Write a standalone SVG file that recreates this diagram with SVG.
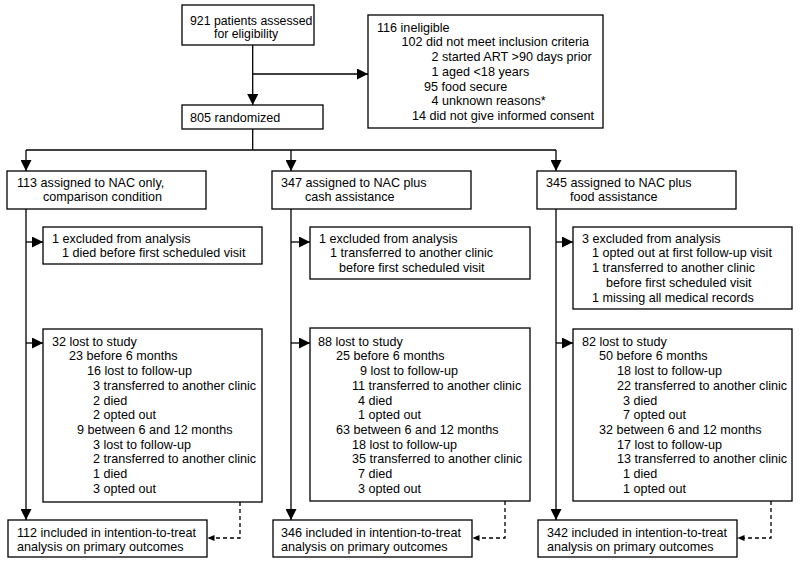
<svg xmlns="http://www.w3.org/2000/svg" width="800" height="566" viewBox="0 0 800 566">
<defs>
<marker id="ah" markerUnits="userSpaceOnUse" markerWidth="11" markerHeight="11" refX="11" refY="5.5" orient="auto"><path d="M0,0 L11,5.5 L0,11 z" fill="#000"/></marker>
<marker id="sh" markerUnits="userSpaceOnUse" markerWidth="7" markerHeight="6" refX="7" refY="3" orient="auto"><path d="M0,0 L7,3 L0,6 z" fill="#000"/></marker>
</defs>
<style>
rect{fill:#fff;stroke:#000;stroke-width:1.3}
text{font-family:"Liberation Sans",Arial,sans-serif;font-size:12.6px;fill:#000}
.s{font-size:12.3px}
.c{fill:none;stroke:#000;stroke-width:1.3}
.a{marker-end:url(#ah)}
.d{stroke-dasharray:4,3;marker-end:url(#sh)}
</style>
<rect width="800" height="566" style="fill:#fff;stroke:none"/>
<g id="connectors">
<path class="c a" d="M252.7,45 V105"/>
<path class="c a" d="M252.7,74 H368"/>
<path class="c" d="M252.7,129 V150"/>
<path class="c" d="M26,150 H556"/>
<path class="c a" d="M26,150 V171"/>
<path class="c a" d="M291,150 V171"/>
<path class="c a" d="M556,150 V171"/>
<path class="c a" d="M26,209 V520"/>
<path class="c a" d="M26,242 H43"/>
<path class="c a" d="M26,343 H43"/>
<path class="c a" d="M291,209 V520"/>
<path class="c a" d="M291,242 H310"/>
<path class="c a" d="M291,343 H310"/>
<path class="c a" d="M556,209 V520"/>
<path class="c a" d="M556,242 H573"/>
<path class="c a" d="M556,343 H573"/>
<path class="c d" d="M240,502 V538 H207.5"/>
<path class="c d" d="M505,501 V538 H472.5"/>
<path class="c d" d="M771,501 V538 H737.5"/>
</g>
<g id="assessed"><rect x="182" y="5" width="132" height="40"/><text class="s" x="190" y="24.5">921 patients assessed</text><text class="s" x="214" y="37.8">for eligibility</text></g>
<g id="ineligible"><rect x="368" y="15" width="235" height="113"/>
<text x="377" y="31.7">116 ineligible</text>
<text x="401.5" y="46.4">102 did not meet inclusion criteria</text>
<text x="431.5" y="61.1">2 started ART &gt;90 days prior</text>
<text x="431.5" y="75.8">1 aged &lt;18 years</text>
<text x="424" y="90.5">95 food secure</text>
<text x="431.5" y="105.2">4 unknown reasons*</text>
<text x="412" y="119.9">14 did not give informed consent</text></g>
<g id="randomized"><rect x="182" y="105" width="141" height="24"/><text x="190" y="122">805 randomized</text></g>
<g id="arm1"><rect x="7" y="171" width="199" height="38"/><text x="17" y="186.7">113 assigned to NAC only,</text><text x="43" y="201.4">comparison condition</text></g>
<g id="arm2"><rect x="272" y="171" width="199" height="38"/><text x="281" y="186.7">347 assigned to NAC plus</text><text x="305" y="201.4">cash assistance</text></g>
<g id="arm3"><rect x="537" y="171" width="199" height="38"/><text x="546" y="186.7">345 assigned to NAC plus</text><text x="570" y="201.4">food assistance</text></g>
<g id="excl1"><rect x="43" y="227" width="219" height="37"/><text x="52" y="242.7">1 excluded from analysis</text><text x="62" y="257.4">1 died before first scheduled visit</text></g>
<g id="excl2"><rect x="310" y="227" width="220" height="52"/><text x="319" y="242.7">1 excluded from analysis</text><text x="330" y="257.4">1 transferred to another clinic</text><text x="339" y="272.1">before first scheduled visit</text></g>
<g id="excl3"><rect x="573" y="227" width="219" height="82"/><text x="582" y="242.7">3 excluded from analysis</text><text x="592" y="257.4">1 opted out at first follow-up visit</text><text x="592" y="272.1">1 transferred to another clinic</text><text x="606" y="286.8">before first scheduled visit</text><text x="592" y="301.5">1 missing all medical records</text></g>
<g id="lost1"><rect x="43" y="329" width="219" height="173"/>
<text x="52" y="345.7">32 lost to study</text>
<text x="69" y="360.4">23 before 6 months</text>
<text x="87" y="375.1">16 lost to follow-up</text>
<text x="93" y="389.8">3 transferred to another clinic</text>
<text x="93" y="404.5">2 died</text>
<text x="93" y="419.2">2 opted out</text>
<text x="77" y="433.9">9 between 6 and 12 months</text>
<text x="93" y="448.6">3 lost to follow-up</text>
<text x="93" y="463.3">2 transferred to another clinic</text>
<text x="93" y="478">1 died</text>
<text x="93" y="492.7">3 opted out</text></g>
<g id="lost2"><rect x="310" y="328" width="220" height="173"/>
<text x="318" y="345.7">88 lost to study</text>
<text x="336" y="360.4">25 before 6 months</text>
<text x="360" y="375.1">9 lost to follow-up</text>
<text x="352" y="389.8">11 transferred to another clinic</text>
<text x="358" y="404.5">4 died</text>
<text x="358" y="419.2">1 opted out</text>
<text x="336" y="433.9">63 between 6 and 12 months</text>
<text x="352" y="448.6">18 lost to follow-up</text>
<text x="352" y="463.3">35 transferred to another clinic</text>
<text x="358" y="478">7 died</text>
<text x="358" y="492.7">3 opted out</text></g>
<g id="lost3"><rect x="573" y="329" width="219" height="172"/>
<text x="582" y="345.7">82 lost to study</text>
<text x="599" y="360.4">50 before 6 months</text>
<text x="617" y="375.1">18 lost to follow-up</text>
<text x="617" y="389.8">22 transferred to another clinic</text>
<text x="623" y="404.5">3 died</text>
<text x="623" y="419.2">7 opted out</text>
<text x="599" y="433.9">32 between 6 and 12 months</text>
<text x="617" y="448.6">17 lost to follow-up</text>
<text x="617" y="463.3">13 transferred to another clinic</text>
<text x="623" y="478">1 died</text>
<text x="623" y="492.7">1 opted out</text></g>
<g id="itt1"><rect x="8" y="520" width="199" height="37"/><text x="17" y="536.7">112 included in intention-to-treat</text><text x="17" y="551.4">analysis on primary outcomes</text></g>
<g id="itt2"><rect x="273" y="520" width="199" height="37"/><text x="281" y="536.7">346 included in intention-to-treat</text><text x="281" y="551.4">analysis on primary outcomes</text></g>
<g id="itt3"><rect x="538" y="520" width="199" height="37"/><text x="547" y="536.7">342 included in intention-to-treat</text><text x="547" y="551.4">analysis on primary outcomes</text></g>
</svg>
